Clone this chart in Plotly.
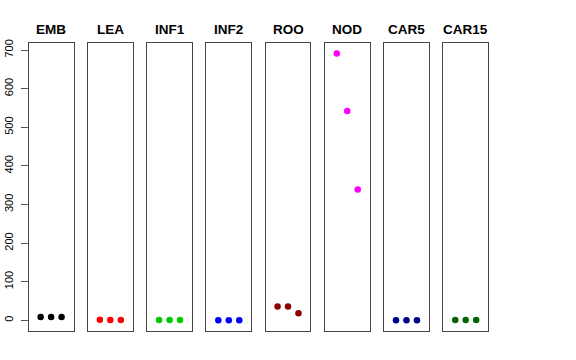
import plotly.graph_objects as go

tissues = ["EMB", "LEA", "INF1", "INF2", "ROO", "NOD", "CAR5", "CAR15"]
colors = ["#000000", "#FF0000", "#00CD00", "#0000FF", "#8B0000", "#FF00FF", "#00008B", "#006400"]
replicate = [1, 2, 3]
values = {
    "EMB": [8.5, 8.5, 8.5],
    "LEA": [1.5, 1.0, 1.0],
    "INF1": [0.5, 0.5, 0.5],
    "INF2": [0.3, 0.3, 0.3],
    "ROO": [36, 36, 18],
    "NOD": [691, 542, 339],
    "CAR5": [0.2, 0.2, 0.2],
    "CAR15": [0.5, 0.5, 0.5],
}
y_ticks = [0, 100, 200, 300, 400, 500, 600, 700]

W, H = 576, 360
left0, step, pw = 28.7, 59.23, 44.8
top_px, bot_px = 42.7, 331.0
y0 = (H - bot_px) / H
y1 = (H - top_px) / H
title_y = (H - 29.3) / H

fig = go.Figure()
layout = {}
for i, (t, c) in enumerate(zip(tissues, colors)):
    sfx = "" if i == 0 else str(i + 1)
    fig.add_trace(go.Scatter(
        x=replicate, y=values[t], mode="markers",
        marker=dict(color=c, size=6.5, line=dict(width=0)),
        xaxis="x" + sfx, yaxis="y" + sfx, showlegend=False,
    ))
    xl = (left0 + i * step) / W
    xr = (left0 + i * step + pw) / W
    layout["xaxis" + sfx] = dict(
        domain=[xl, xr], range=[-0.14, 4.14], anchor="y" + sfx,
        showgrid=False, zeroline=False, showticklabels=False, ticks="",
        showline=True, mirror=True, linecolor="#444444", linewidth=1,
        fixedrange=True, automargin=False,
    )
    ydict = dict(
        domain=[y0, y1], range=[-27.7, 719], anchor="x" + sfx,
        showgrid=False, zeroline=False,
        showline=True, mirror=True, linecolor="#444444", linewidth=1,
        fixedrange=True, automargin=False,
    )
    if i == 0:
        ydict.update(
            tickvals=y_ticks, ticktext=[str(v) for v in y_ticks],
            ticks="outside", ticklen=7, tickcolor="#555555", tickwidth=1,
            ticklabelstandoff=3,
            tickangle=-90, tickfont=dict(family="Liberation Sans, Arial, sans-serif", size=11, color="#000000"),
            showticklabels=True,
        )
    else:
        ydict.update(showticklabels=False, ticks="")
    layout["yaxis" + sfx] = ydict
    fig.add_annotation(
        x=(xl + xr) / 2, y=title_y, xref="paper", yref="paper",
        text="<b>" + t + "</b>", showarrow=False,
        font=dict(family="Liberation Sans, Arial, sans-serif", size=13.5, color="#000000"),
        xanchor="center", yanchor="middle",
    )

fig.update_layout(
    width=W, height=H,
    margin=dict(l=0, r=0, t=0, b=0),
    paper_bgcolor="white", plot_bgcolor="white",
    **layout,
)
fig.write_html("out.html", config={"displayModeBar": False},
               post_script="document.body.style.margin='0px';")
